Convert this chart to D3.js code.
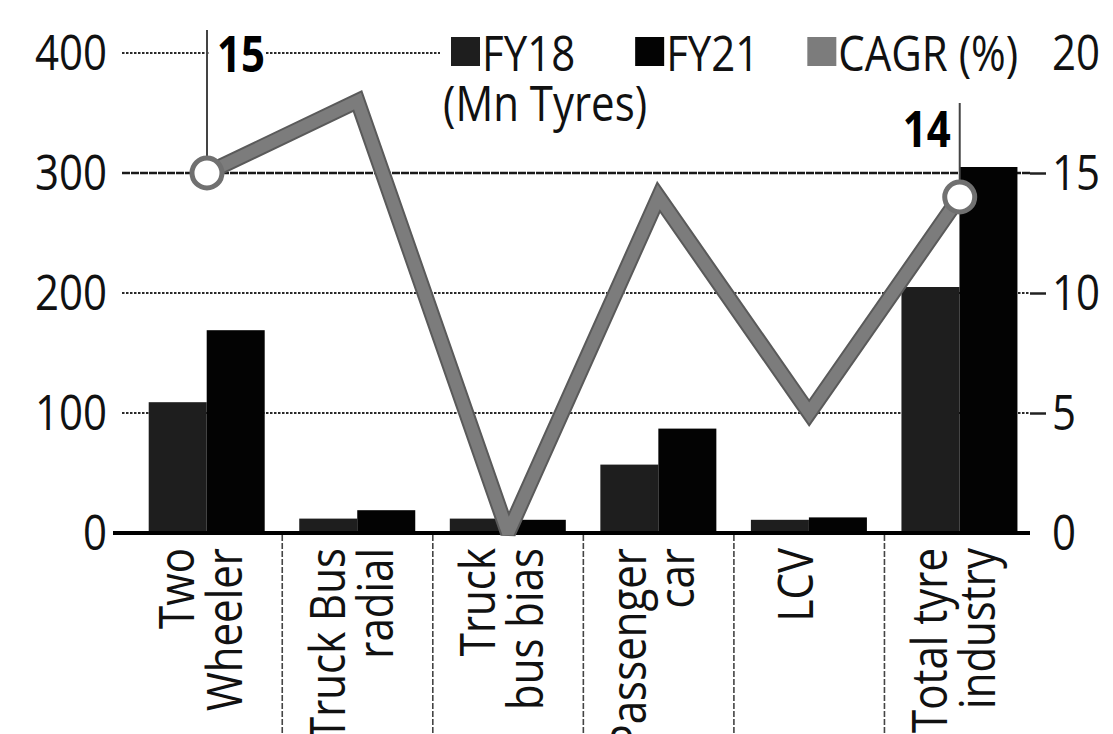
<!DOCTYPE html>
<html><head><meta charset="utf-8">
<script src="https://cdn.jsdelivr.net/npm/d3@7"></script>
<style>body{margin:0;background:#fff}</style>
</head><body>
<svg id="c" width="1113" height="734"></svg>
<script>
const categories = ["Two Wheeler","Truck Bus radial","Truck bus bias","Passenger car","LCV","Total tyre industry"];
const labelLines = [["Two","Wheeler"],["Truck Bus","radial"],["Truck","bus bias"],["Passenger","car"],["LCV"],["Total tyre","industry"]];
const seriesNames = ["FY18","FY21"];
const fy18 = [109, 12, 12, 57, 11, 205];
const fy21 = [169, 19, 11, 87, 13, 305];
const cagr = [15, 18, 0, 14, 5, 14];
const leftTicks = [0,100,200,300,400];
const rightTicks = [0,5,10,15,20];
const legendItems = ["FY18","FY21","CAGR (%)"];
const legendSub = "(Mn Tyres)";

function hasFont(name){
  const c=document.createElement("canvas").getContext("2d");
  c.font="50px monospace"; const a=c.measureText("Wheeler 400").width;
  c.font="50px '"+name+"', monospace"; const b=c.measureText("Wheeler 400").width;
  return a!==b;
}
const narrow = hasFont("Liberation Sans Narrow");
const FONT = narrow ? "'Liberation Sans Narrow', sans-serif" : "'Open Sans', sans-serif";
const FS = narrow ? 52 : 50;
const SX = narrow ? 1 : 0.84;   // horizontal condensing

const svg = d3.select("#c").style("font-family", FONT);
svg.append("rect").attr("width",1113).attr("height",734).attr("fill","#fff");

const x = d3.scaleBand().domain(categories).range([131.7, 1035]);
const xs = d3.scaleBand().domain(seriesNames).range([17, 133]);
const y = d3.scaleLinear().domain([0,400]).range([533,53]);
const yR = d3.scaleLinear().domain([0,20]).range([533,53]);
const colors = {FY18:"#1e1e1e", FY21:"#030303", CAGR:"#7c7c7c"};
const bw = x.bandwidth();

function ctext(sel, tx, ty, str, opts={}){
  return sel.append("text").attr("transform",`translate(${tx},${ty}) scale(${SX},1)`)
    .attr("font-size",opts.fs||FS).attr("fill",opts.fill||"#111")
    .attr("text-anchor",opts.anchor||"start").attr("font-weight",opts.fw||"normal").text(str);
}

// gridlines
svg.append("g").selectAll("line").data(leftTicks.filter(d=>d>0)).join("line")
  .attr("x1",122).attr("x2",1030).attr("y1",d=>y(d)).attr("y2",d=>y(d))
  .attr("stroke",d=>d===300?"#1a1a1a":"#2a2a2a").attr("stroke-width",d=>d===300?2.6:2.2)
  .attr("stroke-dasharray",d=>d===300?"8,1":"2.5,1.5");

// left axis
const la = svg.append("g").attr("transform","translate(125,0)")
  .call(d3.axisLeft(y).tickValues(leftTicks).tickSize(0).tickPadding(18));
la.select(".domain").remove();
la.selectAll("text").attr("font-size",FS).attr("fill","#111").attr("font-family",FONT)
  .attr("transform",`scale(${SX},1)`).attr("x",-18/SX);

// right axis
const ra = svg.append("g").attr("transform","translate(1030,0)")
  .call(d3.axisRight(yR).tickValues(rightTicks).tickSizeInner(16).tickSizeOuter(0).tickPadding(6));
ra.select(".domain").remove();
ra.selectAll("line").attr("stroke","#222").attr("stroke-width",2.5).filter(d=>d===0||d===20).remove();
ra.selectAll("text").attr("font-size",FS).attr("fill","#111").attr("font-family",FONT)
  .attr("transform",`scale(${SX},1)`).attr("x",22/SX);

// bars
const groups = svg.append("g").selectAll("g").data(categories).join("g")
  .attr("transform",d=>`translate(${x(d)},0)`);
groups.selectAll("rect").data((d,i)=>[{s:"FY18",v:fy18[i]},{s:"FY21",v:fy21[i]}]).join("rect")
  .attr("x",d=>xs(d.s)).attr("width",xs.bandwidth())
  .attr("y",d=>y(d.v)).attr("height",d=>y(0)-y(d.v))
  .attr("fill",d=>colors[d.s]);

// separators below axis
svg.append("g").selectAll("line").data(categories.slice(1)).join("line")
  .attr("x1",d=>x(d)).attr("x2",d=>x(d)).attr("y1",535).attr("y2",734)
  .attr("stroke","#444").attr("stroke-width",1.6).attr("stroke-dasharray","6,2");

// base axis line
svg.append("line").attr("x1",113).attr("x2",1030).attr("y1",y(0)).attr("y2",y(0))
  .attr("stroke","#000").attr("stroke-width",4);

// x labels
const xl = svg.append("g").selectAll("g").data(categories).join("g")
  .attr("transform",d=>`translate(${x(d)+bw/2},548) rotate(-90) scale(${SX},1)`);
xl.each(function(d,i){
  const lines = labelLines[i], n = lines.length;
  d3.select(this).selectAll("text").data(lines).join("text")
    .attr("x",0).attr("y",(t,j)=> n===1 ? 4 : -13 + j*48)
    .attr("text-anchor","end").attr("font-size",FS).attr("fill","#111").text(t=>t);
});

// CAGR line
const line = d3.line().x((d,i)=>x(categories[i])+bw/2).y(d=>yR(d)).curve(d3.curveLinear);
svg.append("path").datum(cagr).attr("d",line).attr("fill","none")
  .attr("stroke","#5a5a5a").attr("stroke-width",16).attr("stroke-linejoin","miter").attr("stroke-miterlimit",2.5);
svg.append("path").datum(cagr).attr("d",line).attr("fill","none")
  .attr("stroke",colors.CAGR).attr("stroke-width",12).attr("stroke-linejoin","miter").attr("stroke-miterlimit",2.5);

// annotations at ends
const ann = [0, cagr.length-1];
ann.forEach((i,k)=>{
  const cx = x(categories[i])+bw/2, cy = yR(cagr[i]);
  const top = k===0 ? 30 : 103;
  svg.append("line").attr("x1",cx).attr("x2",cx).attr("y1",top).attr("y2",cy-15)
    .attr("stroke","#444").attr("stroke-width",2);
  if(k===0){
    svg.append("rect").attr("x",cx+3).attr("y",30).attr("width",55).attr("height",45).attr("fill","#fff");
    ctext(svg, cx+10, 72, cagr[i], {fw:"bold", fill:"#000"});
  } else {
    ctext(svg, cx-9, 147, cagr[i], {fw:"bold", fill:"#000", anchor:"end"});
  }
  svg.append("circle").attr("cx",cx).attr("cy",cy).attr("r",15)
    .attr("fill","#fff").attr("stroke","#707070").attr("stroke-width",5);
});

// legend
svg.append("rect").attr("x",440).attr("y",25).attr("width",600).attr("height",50).attr("fill","#fff");
const lcol = [colors.FY18, colors.FY21, colors.CAGR];
let lx = 451;
legendItems.forEach((t,i)=>{
  svg.append("rect").attr("x",lx).attr("y",37).attr("width",29).attr("height",29).attr("fill",lcol[i]);
  const tx = ctext(svg, lx+31, 71, t);
  lx += 31 + tx.node().getComputedTextLength()*SX + (i===0 ? 60 : 48);
});
ctext(svg, 443, 121, legendSub);
</script>
</body></html>
